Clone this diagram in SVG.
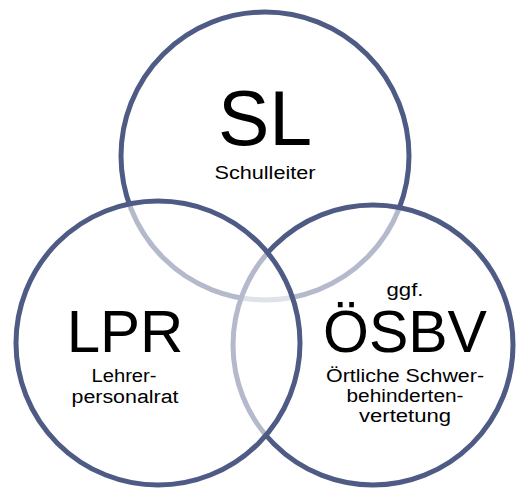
<svg xmlns="http://www.w3.org/2000/svg" width="518" height="494" viewBox="0 0 518 494">
<style>
.c{fill:#ffffff;fill-opacity:0.58;stroke:#4e5b84;stroke-width:5}
.big{font-family:"Liberation Sans",Arial,sans-serif;fill:#000;text-anchor:middle}
.sm{font-family:"Liberation Sans",Arial,sans-serif;fill:#000;text-anchor:middle;font-size:18px}
</style>
<rect width="518" height="494" fill="#ffffff"/>
<g id="connectors"></g>
<g id="SL">
<circle class="c" cx="265" cy="156" r="144"/>
<text class="big" x="265" y="145" font-size="77">SL</text>
<text class="sm" x="265" y="179" textLength="101" lengthAdjust="spacingAndGlyphs">Schulleiter</text>
</g>
<g id="OSBV">
<circle class="c" cx="373" cy="345" r="140"/>
<text class="sm" x="405" y="296" textLength="37" lengthAdjust="spacingAndGlyphs">ggf.</text>
<text class="big" x="405" y="352" font-size="59">ÖSBV</text>
<text class="sm" x="405" y="382" textLength="158" lengthAdjust="spacingAndGlyphs">Örtliche Schwer-</text>
<text class="sm" x="405" y="402" textLength="117" lengthAdjust="spacingAndGlyphs">behinderten-</text>
<text class="sm" x="405" y="422" textLength="92" lengthAdjust="spacingAndGlyphs">vertetung</text>
</g>
<g id="LPR">
<circle class="c" cx="158" cy="343" r="142"/>
<text class="big" x="125" y="352" font-size="60">LPR</text>
<text class="sm" x="124" y="382" textLength="65" lengthAdjust="spacingAndGlyphs">Lehrer-</text>
<text class="sm" x="125" y="403" textLength="107" lengthAdjust="spacingAndGlyphs">personalrat</text>
</g>
</svg>
